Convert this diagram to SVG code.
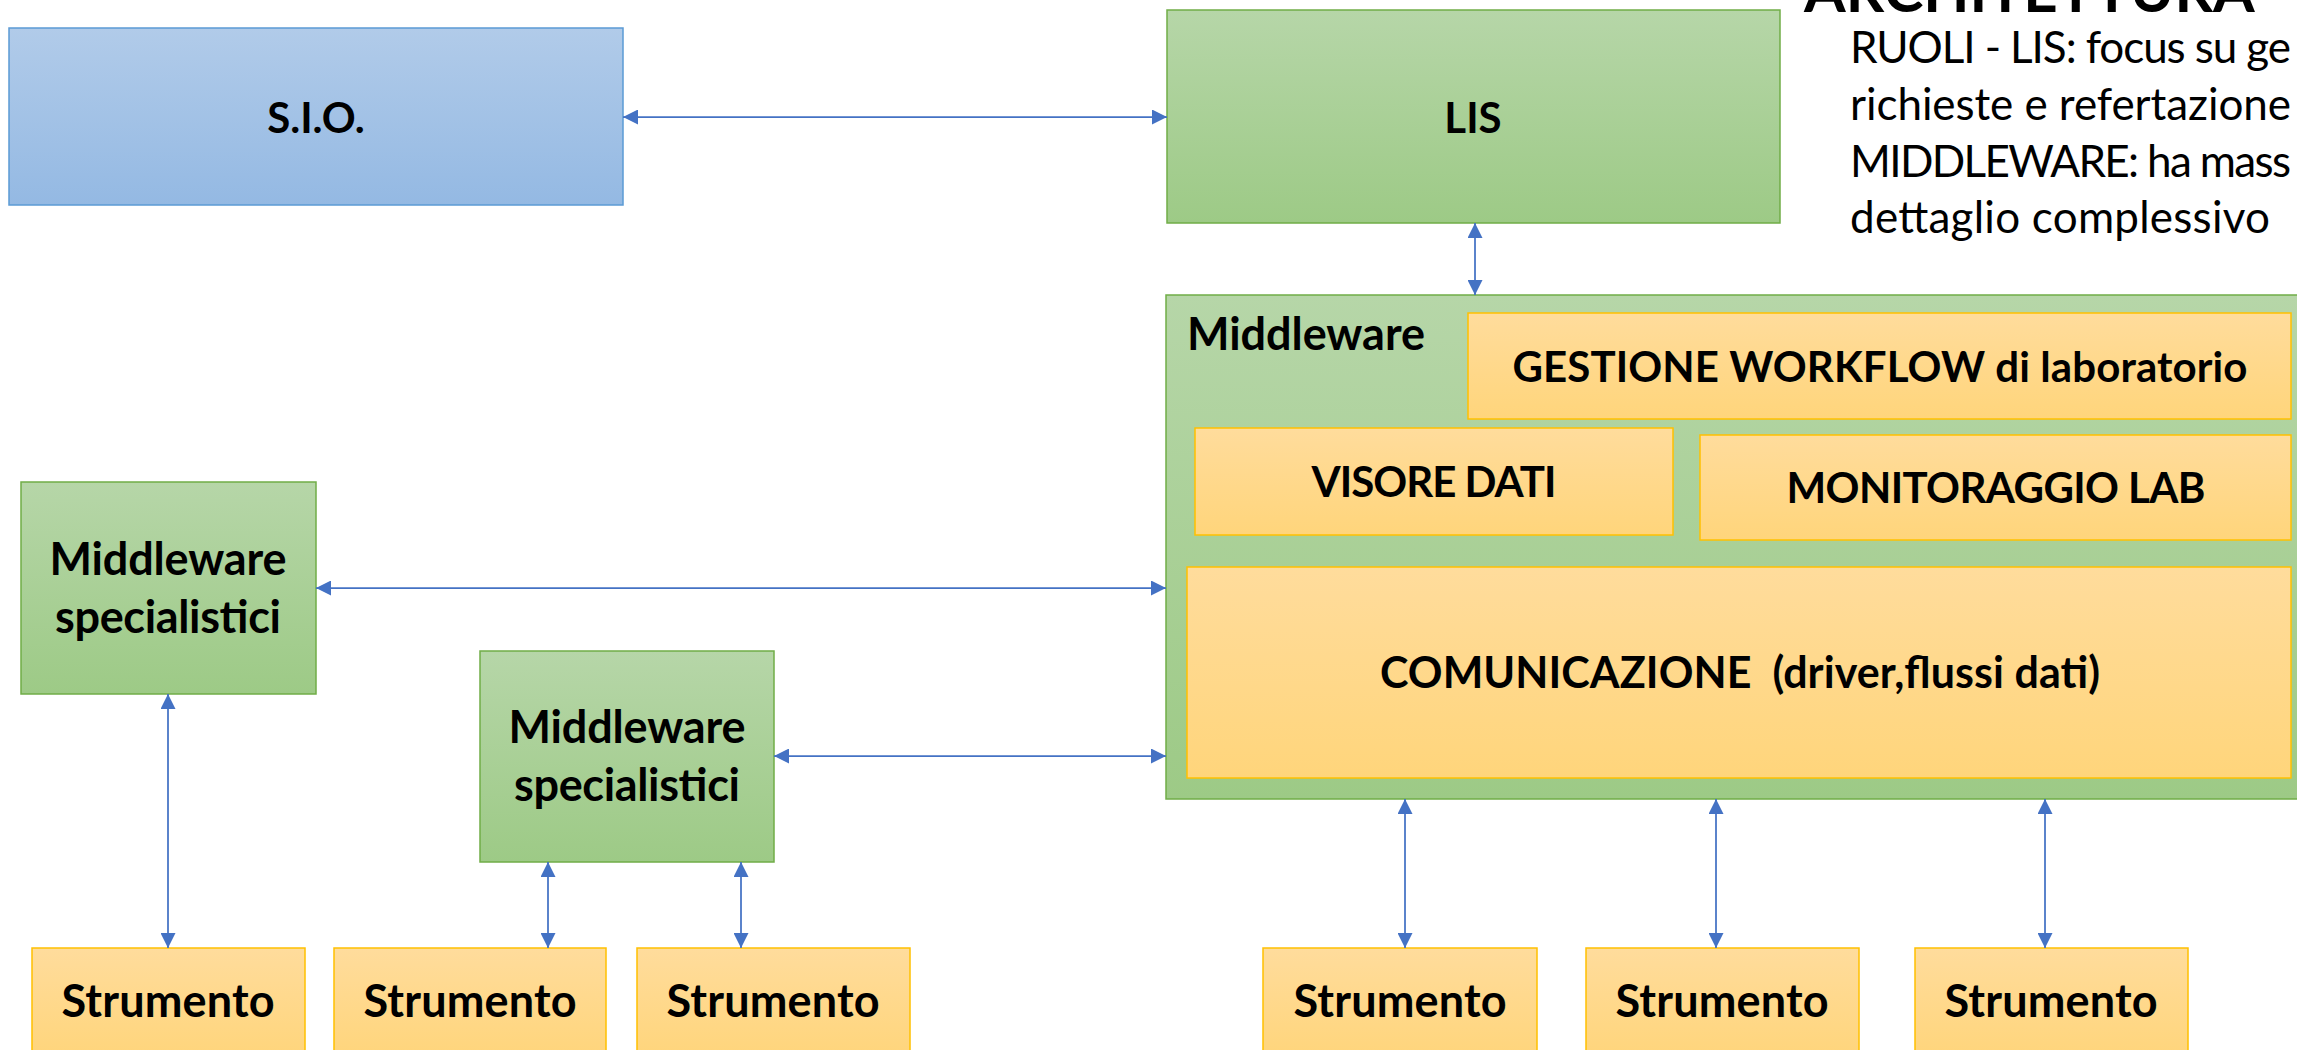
<svg xmlns="http://www.w3.org/2000/svg" width="2297" height="1050" viewBox="0 0 2297 1050">
<style>
.t{font-family:Lato,"Liberation Sans",sans-serif;font-weight:bold;font-size:42px;fill:#000;text-anchor:middle}
.tl{font-family:Lato,"Liberation Sans",sans-serif;font-weight:bold;font-size:45px;fill:#000}
.big{font-size:45px}
.note{font-family:Lato,"Liberation Sans",sans-serif;font-size:44px;fill:#000}
.blue{fill:url(#gBlue);stroke:#5b9bd5;stroke-width:1.5}
.green{fill:url(#gGreen);stroke:#70ad47;stroke-width:1.5}
.orange{fill:url(#gOrange);stroke:#ffc000;stroke-width:1.5}
.c{stroke:#4472c4;stroke-width:1.75;fill:none;marker-start:url(#a);marker-end:url(#a)}
</style>
<defs>
<linearGradient id="gBlue" x1="0" y1="0" x2="0" y2="1"><stop offset="0" stop-color="#b1cbe9"/><stop offset="1" stop-color="#94b9e3"/></linearGradient>
<linearGradient id="gGreen" x1="0" y1="0" x2="0" y2="1"><stop offset="0" stop-color="#b6d6a8"/><stop offset="1" stop-color="#9dca86"/></linearGradient>
<linearGradient id="gOrange" x1="0" y1="0" x2="0" y2="1"><stop offset="0" stop-color="#ffdc9c"/><stop offset="1" stop-color="#ffd57b"/></linearGradient>
<marker id="a" viewBox="0 0 15 15" refX="15" refY="7.5" markerWidth="15" markerHeight="15" markerUnits="userSpaceOnUse" orient="auto-start-reverse"><path d="M0,0 L15,7.5 L0,15 Z" fill="#4472c4"/></marker>
</defs>
<g id="title">
<text class="note" x="1804" y="12" style="font-size:60px;font-weight:bold">ARCHITETTURA</text>
<text class="note" x="1850" y="63" textLength="441">RUOLI - LIS: focus su ge</text>
<text class="note" x="1850" y="120" textLength="441">richieste e refertazione</text>
<text class="note" x="1850" y="177" textLength="441">MIDDLEWARE: ha mass</text>
<text class="note" x="1850" y="233" textLength="420">dettaglio complessivo</text>
</g>
<g id="sio"><rect class="blue" x="9" y="28" width="614" height="177"/><text class="t" x="316" y="133">S.I.O.</text></g>
<g id="lis"><rect class="green" x="1167" y="10" width="613" height="213"/><text class="t" x="1473" y="133">LIS</text></g>
<g id="middleware">
<rect class="green" x="1166" y="295" width="1140" height="504"/>
<text class="tl" x="1187" y="350" textLength="238">Middleware</text>
<g id="gestione"><rect class="orange" x="1468" y="313" width="823" height="106"/><text class="t" x="1880" y="382" textLength="735">GESTIONE WORKFLOW di laboratorio</text></g>
<g id="visore"><rect class="orange" x="1195" y="428" width="478" height="107"/><text class="t" x="1434" y="497" textLength="245">VISORE DATI</text></g>
<g id="monitoraggio"><rect class="orange" x="1700" y="435" width="591" height="105"/><text class="t" x="1996" y="503" textLength="419">MONITORAGGIO LAB</text></g>
<g id="comunicazione"><rect class="orange" x="1187" y="567" width="1104" height="211"/><text class="t" x="1740" y="688" style="font-size:43px" textLength="720" xml:space="preserve">COMUNICAZIONE  (driver,flussi dati)</text></g>
</g>
<g id="ms1"><rect class="green" x="21" y="482" width="295" height="212"/><text class="t big" x="168" y="575" textLength="237">Middleware</text><text class="t big" x="168" y="633" textLength="226">specialistici</text></g>
<g id="ms2"><rect class="green" x="480" y="651" width="294" height="211"/><text class="t big" x="627" y="743" textLength="237">Middleware</text><text class="t big" x="627" y="801" textLength="226">specialistici</text></g>
<g id="s1"><rect class="orange" x="32" y="948" width="273" height="110"/><text class="t big" x="168" y="1017" textLength="213">Strumento</text></g>
<g id="s2"><rect class="orange" x="334" y="948" width="272" height="110"/><text class="t big" x="470" y="1017" textLength="213">Strumento</text></g>
<g id="s3"><rect class="orange" x="637" y="948" width="273" height="110"/><text class="t big" x="773" y="1017" textLength="213">Strumento</text></g>
<g id="s4"><rect class="orange" x="1263" y="948" width="274" height="110"/><text class="t big" x="1400" y="1017" textLength="213">Strumento</text></g>
<g id="s5"><rect class="orange" x="1586" y="948" width="273" height="110"/><text class="t big" x="1722" y="1017" textLength="213">Strumento</text></g>
<g id="s6"><rect class="orange" x="1915" y="948" width="273" height="110"/><text class="t big" x="2051" y="1017" textLength="213">Strumento</text></g>
<g id="connectors">
<line class="c" x1="623" y1="117" x2="1167" y2="117"/>
<line class="c" x1="1475" y1="223" x2="1475" y2="295"/>
<line class="c" x1="316" y1="588" x2="1166" y2="588"/>
<line class="c" x1="774" y1="756" x2="1166" y2="756"/>
<line class="c" x1="168" y1="694" x2="168" y2="948"/>
<line class="c" x1="548" y1="862" x2="548" y2="948"/>
<line class="c" x1="741" y1="862" x2="741" y2="948"/>
<line class="c" x1="1405" y1="799" x2="1405" y2="948"/>
<line class="c" x1="1716" y1="799" x2="1716" y2="948"/>
<line class="c" x1="2045" y1="799" x2="2045" y2="948"/>
</g>
</svg>
